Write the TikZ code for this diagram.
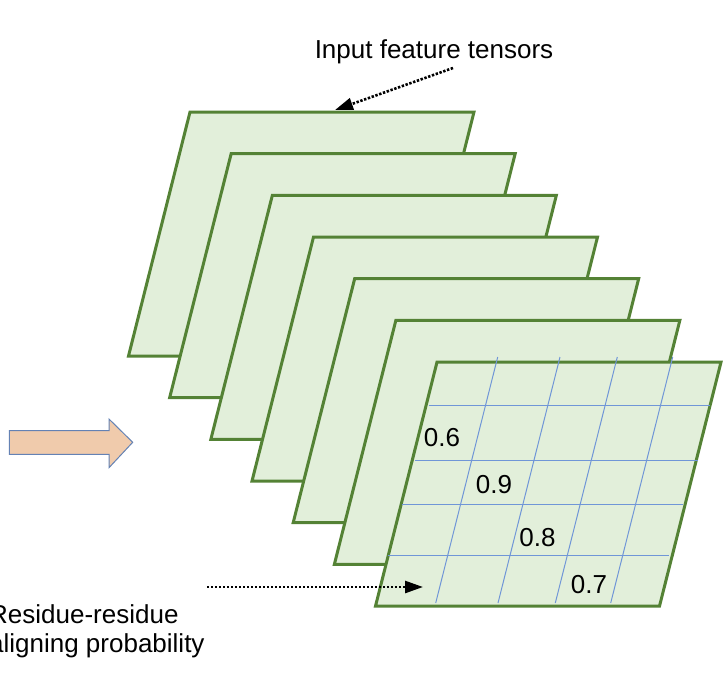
\documentclass[tikz,border=0pt]{standalone}
\usepackage{fontspec}
\setmainfont{Liberation Sans}
\usetikzlibrary{arrows.meta}
\definecolor{planefill}{RGB}{226,239,218}
\definecolor{planeline}{RGB}{84,130,53}
\definecolor{gridblue}{RGB}{112,150,215}
\definecolor{peach}{RGB}{240,203,172}
\definecolor{peachline}{RGB}{100,130,180}

\begin{document}
\begin{tikzpicture}[x=1pt,y=-1pt,
  plane/.style={fill=planefill,draw=planeline,line width=3pt},
  cell/.style={draw=gridblue,line width=1pt},
  pointer/.style={line width=2.6pt,dash pattern=on 2.4pt off 1.6pt,-{Triangle[length=18pt,width=12pt]}},
  lbl/.style={font=\fontsize{26}{29}\selectfont,inner sep=0pt}]
\useasboundingbox (0,0) rectangle (727,683);
\draw[fill=peach,draw=peachline,line width=1pt] (9.3,430.7) -- (109,430.7) -- (109,419) -- (132.7,442.3) -- (109,467.7) -- (109,454.3) -- (9.3,454.3) -- cycle;
\foreach \i in {0,...,6}
  \filldraw[plane,shift={(\i*41.17,\i*41.67)}] (190,112) -- (474,112) -- (412.5,356) -- (128.5,356) -- cycle;
\foreach \x in {497.7,560,617.3,672.7}
  \draw[cell] (\x,357) -- (\x-62,603);
\draw[cell] (429,405.7) -- (710,405.7);
\draw[cell] (415,460.7) -- (697.7,460.7);
\draw[cell] (401.7,504.3) -- (683,504.3);
\draw[cell] (388,555.3) -- (669,555.3);
\node[lbl] (p06) at (442,438) {0.6};
\node[lbl] (p09) at (494,485) {0.9};
\node[lbl] (p08) at (537.5,538) {0.8};
\node[lbl] (p07) at (589,585) {0.7};
\node[lbl,anchor=base] (inLabel) at (434,58) {Input feature tensors};
\node[lbl,anchor=base west,align=left] (probLabel) at (-11,652) {Residue-residue\\aligning probability};
\coordinate (inTail) at (453,68);
\coordinate (inTip) at (335,110);
\coordinate (probTail) at (207,587);
\coordinate (probTip) at (423,587);
\draw[pointer] (inTail) -- (inTip);
\draw[pointer] (probTail) -- (probTip);
\end{tikzpicture}
\end{document}
